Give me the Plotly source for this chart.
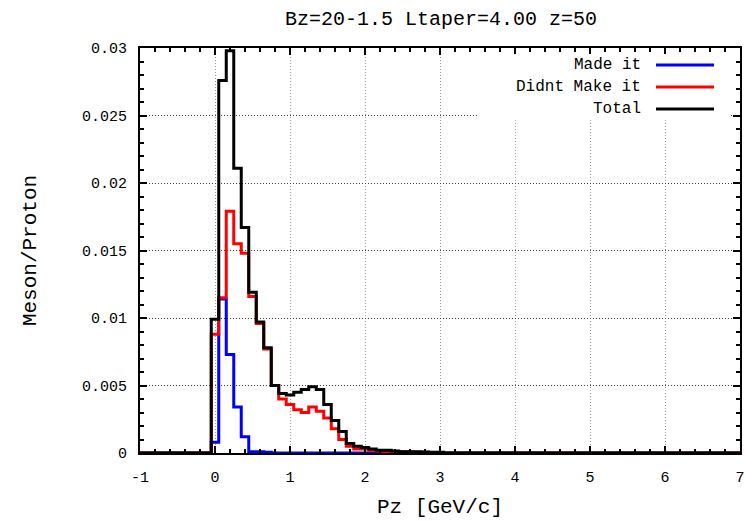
import plotly.graph_objects as go

# Histogram bins: centres from -1.0 to 7.0, width 0.1
bin_width = 0.1
first_centre = -1.0
n_bins = 81

# values for bins centred at Pz = 0.0 (index 10) onwards
start_index = 10
total_vals = [0.0099, 0.0276, 0.0298, 0.0211, 0.0167, 0.0119, 0.0097, 0.0078, 0.0050,
              0.0044, 0.0043, 0.0045, 0.0047, 0.0049, 0.0047, 0.0036, 0.0024, 0.0016,
              0.0007, 0.0005, 0.0004, 0.0003, 0.0002, 0.0002, 0.00015, 0.0001, 0.0001,
              0.0001, 0.00008, 0.00006, 0.00005]
didnt_vals = [0.0088, 0.0115, 0.0179, 0.0155, 0.0148, 0.0116, 0.0096, 0.0077, 0.0050,
              0.0040, 0.0036, 0.0032, 0.0030, 0.0034, 0.0031, 0.0026, 0.0018, 0.0010,
              0.0005, 0.0003, 0.0003, 0.0002, 0.00015, 0.0001, 0.0001, 0.0001, 0.00008,
              0.00006, 0.00005, 0.00004, 0.00003]
made_vals = [0.0008, 0.0114, 0.0073, 0.0034, 0.0012, 0.0001, 0.0001, 0.00005]

x_tickvals = [-1, 0, 1, 2, 3, 4, 5, 6, 7]
x_ticktext = ["-1", "0", "1", "2", "3", "4", "5", "6", "7"]
y_tickvals = [0, 0.005, 0.01, 0.015, 0.02, 0.025, 0.03]
y_ticktext = ["0", "0.005", "0.01", "0.015", "0.02", "0.025", "0.03"]

series = [("Made it", made_vals, "#0000ff"),
          ("Didnt Make it", didnt_vals, "#ff0000"),
          ("Total", total_vals, "#000000")]

# step edges (bin centre minus half width)
edges = [round(first_centre - bin_width / 2 + bin_width * i, 3) for i in range(n_bins + 1)]

def full(vals):
    arr = [0.0] * n_bins
    for i, v in enumerate(vals):
        arr[start_index + i] = v
    return arr

FONT = "Liberation Mono, Courier New, monospace"
L, R, T, B = 140, 740, 48, 453
W, H = R - L, B - T

fig = go.Figure()
for name, vals, col in series:
    y = full(vals)
    fig.add_trace(go.Scatter(x=edges, y=y + [y[-1]], mode="lines", line_shape="hv",
                             line=dict(color=col, width=3), name=name, showlegend=False,
                             cliponaxis=True))

# manual legend (text right-aligned, sample on the right)
fig.add_shape(type="rect", xref="paper", yref="paper",
              x0=(477 - L) / W, x1=(731 - L) / W,
              y0=(B - 119) / H, y1=(B - 54) / H,
              fillcolor="white", line=dict(width=0), layer="above")
for k, (name, vals, col) in enumerate(series):
    ypix = 65 + 22 * k
    yp = (B - ypix) / H
    fig.add_annotation(x=(643 - L) / W, y=yp, xref="paper", yref="paper",
                       text=name, showarrow=False, xanchor="right", yanchor="middle",
                       font=dict(family=FONT, size=16, color="black"))
    fig.add_shape(type="line", xref="paper", yref="paper",
                  x0=(656 - L) / W, x1=(714 - L) / W, y0=yp, y1=yp,
                  line=dict(color=col, width=3), layer="above")

axis_common = dict(showline=True, linecolor="black", linewidth=2, mirror="allticks",
                   ticks="inside", ticklen=7, tickwidth=1.5, tickcolor="black",
                   showgrid=True, gridwidth=1, automargin=False,
                   zeroline=False, tickfont=dict(family=FONT, size=15, color="black"))

fig.update_xaxes(range=[-1, 7], tickvals=x_tickvals, ticktext=x_ticktext,
                 gridcolor="#9a9a9a", griddash="1px,2px", ticklabelstandoff=9,
                 minor=dict(dtick=0.2, ticks="inside", ticklen=4, tickcolor="black", showgrid=False),
                 title=dict(text="Pz [GeV/c]", font=dict(family=FONT, size=21, color="black"), standoff=12),
                 **axis_common)
fig.update_yaxes(range=[0, 0.03], tickvals=y_tickvals, ticktext=y_ticktext,
                 gridcolor="#444444", griddash="1px,2px", ticklabelstandoff=8,
                 minor=dict(dtick=0.001, ticks="inside", ticklen=4, tickcolor="black", showgrid=False),
                 title=dict(text="Meson/Proton", font=dict(family=FONT, size=21, color="black"), standoff=40),
                 **axis_common)

fig.update_layout(width=746, height=522, margin=dict(l=L, r=746 - R, t=T, b=522 - B),
                  plot_bgcolor="white", paper_bgcolor="white",
                  title=dict(text="Bz=20-1.5 Ltaper=4.00 z=50", x=441 / 746, xanchor="center",
                             y=1 - 18 / 522, yanchor="middle",
                             font=dict(family=FONT, size=20, color="black")))

fig.write_html("out.html")
